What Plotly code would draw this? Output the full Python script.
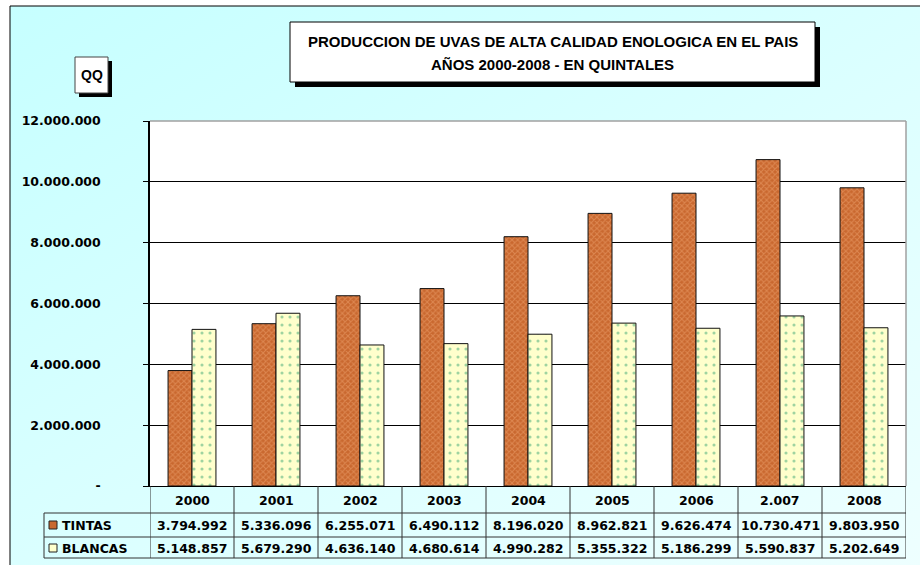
import base64
import plotly.graph_objects as go

# ---------------- data ----------------
years = ["2000", "2001", "2002", "2003", "2004", "2005", "2006", "2.007", "2008"]
tintas = [3794992, 5336096, 6255071, 6490112, 8196020, 8962821, 9626474, 10730471, 9803950]
blancas = [5148857, 5679290, 4636140, 4680614, 4990282, 5355322, 5186299, 5590837, 5202649]
series_names = ["TINTAS", "BLANCAS"]
y_ticks = [0, 2000000, 4000000, 6000000, 8000000, 10000000, 12000000]
title_lines = ["PRODUCCION DE UVAS DE ALTA CALIDAD ENOLOGICA EN EL PAIS",
               "AÑOS 2000-2008 - EN QUINTALES"]
unit_label = "QQ"


def fmt(v):
    return f"{v:,}".replace(",", ".")


# ---------------- layout geometry (pixels) ----------------
W, H = 920, 565
L, R, T, B = 150, 14, 121, 79
PW, PH = W - L - R, H - T - B


def px(x):
    return (x - L) / PW


def py(y):
    return (H - B - y) / PH


FONT = "Liberation Sans, Arial, Helvetica, sans-serif"
WIDE = "DejaVu Sans, Verdana, sans-serif"
TINTA_BG = "#c9682f"
TINTA_FG = "#f0a672"
BLANCA_BG = "#ffffcc"
BLANCA_FG = "#3fa873"

fig = go.Figure()
fig.add_trace(go.Bar(
    x=years, y=tintas, name=series_names[0],
    marker=dict(color=TINTA_BG, line=dict(color="#111", width=1),
                pattern=dict(shape="x", fgcolor=TINTA_FG, bgcolor=TINTA_BG,
                             size=4, solidity=0.45, fillmode="overlay")),
))
fig.add_trace(go.Bar(
    x=years, y=blancas, name=series_names[1],
    marker=dict(color=BLANCA_BG, line=dict(color="#111", width=1),
                pattern=dict(shape=".", fgcolor=BLANCA_FG, bgcolor=BLANCA_BG,
                             size=8, solidity=0.12, fillmode="overlay")),
))

# gradient background via SVG image
svg = ('<svg xmlns="http://www.w3.org/2000/svg" width="100" height="100" preserveAspectRatio="none">'
       '<defs><linearGradient id="g" x1="0" y1="0" x2="1" y2="1">'
       '<stop offset="0" stop-color="#c6ffff"/><stop offset="1" stop-color="#eeffff"/>'
       '</linearGradient></defs><rect width="100" height="100" fill="url(#g)"/></svg>')
src = "data:image/svg+xml;base64," + base64.b64encode(svg.encode()).decode()

x0b, y0b = px(10), py(6)
x1b, y1b = px(W + 2), py(H + 2)
images = [dict(source=src, xref="paper", yref="paper", x=x0b, y=y0b,
               sizex=x1b - x0b, sizey=y0b - y1b, sizing="stretch",
               xanchor="left", yanchor="top", layer="below")]

shapes = []
# outer border (top + left)
shapes.append(dict(type="line", xref="paper", yref="paper", x0=x0b, x1=x1b, y0=y0b, y1=y0b,
                   line=dict(color="#000", width=1), layer="below"))
shapes.append(dict(type="line", xref="paper", yref="paper", x0=x0b, x1=x0b, y0=y0b, y1=y1b,
                   line=dict(color="#000", width=1), layer="below"))
# plot area white background
shapes.append(dict(type="rect", xref="paper", yref="paper", x0=0, x1=1, y0=0, y1=1,
                   fillcolor="white", line=dict(width=0), layer="below"))
# plot area frame (grey top/right)
shapes.append(dict(type="line", xref="paper", yref="paper", x0=0, x1=1, y0=1, y1=1,
                   line=dict(color="#a0a0a0", width=1.5)))
shapes.append(dict(type="line", xref="paper", yref="paper", x0=1, x1=1, y0=0, y1=1,
                   line=dict(color="#a0a0a0", width=1.5)))

# title box with shadow
tx0, tx1, ty0, ty1 = 290, 815, 22, 82
shapes.append(dict(type="rect", xref="paper", yref="paper", x0=px(tx0 + 5), x1=px(tx1 + 5),
                   y0=py(ty0 + 5), y1=py(ty1 + 5), fillcolor="#000", line=dict(width=0)))
shapes.append(dict(type="rect", xref="paper", yref="paper", x0=px(tx0), x1=px(tx1),
                   y0=py(ty0), y1=py(ty1), fillcolor="white", line=dict(color="#000", width=1)))
# QQ box with shadow
qx0, qx1, qy0, qy1 = 75, 108, 57, 93
shapes.append(dict(type="rect", xref="paper", yref="paper", x0=px(qx0 + 4), x1=px(qx1 + 4),
                   y0=py(qy0 + 4), y1=py(qy1 + 4), fillcolor="#000", line=dict(width=0)))
shapes.append(dict(type="rect", xref="paper", yref="paper", x0=px(qx0), x1=px(qx1),
                   y0=py(qy0), y1=py(qy1), fillcolor="white", line=dict(color="#444", width=1)))

# data table lines
TL = "#333"
row_tops = [486, 513, 537, 558]
for i in range(len(years) + 1):
    shapes.append(dict(type="line", xref="x", yref="paper", x0=i - 0.5, x1=i - 0.5,
                       y0=py(486), y1=py(558), line=dict(color=TL, width=1)))
for yy in row_tops[1:]:
    shapes.append(dict(type="line", xref="paper", yref="paper", x0=px(44), x1=1,
                       y0=py(yy), y1=py(yy), line=dict(color=TL, width=1)))
shapes.append(dict(type="line", xref="paper", yref="paper", x0=px(44), x1=px(44),
                   y0=py(513), y1=py(558), line=dict(color=TL, width=1)))
# legend keys in table
for yc, col in [(525, TINTA_BG), (548, BLANCA_BG)]:
    shapes.append(dict(type="rect", xref="paper", yref="paper", x0=px(49), x1=px(57),
                       y0=py(yc - 4), y1=py(yc + 4), fillcolor=col,
                       line=dict(color="#222", width=1)))

annotations = []
tfont = dict(family=FONT, size=15, color="#000", weight="bold")
annotations.append(dict(text=title_lines[0], xref="paper", yref="paper",
                        x=px((tx0 + tx1) / 2), y=py(41), showarrow=False, font=tfont,
                        xanchor="center", yanchor="middle"))
annotations.append(dict(text=title_lines[1], xref="paper", yref="paper",
                        x=px((tx0 + tx1) / 2), y=py(64), showarrow=False, font=tfont,
                        xanchor="center", yanchor="middle"))
annotations.append(dict(text=unit_label, xref="paper", yref="paper",
                        x=px((qx0 + qx1) / 2), y=py((qy0 + qy1) / 2), showarrow=False,
                        font=dict(family=FONT, size=14, color="#000", weight="bold"),
                        xanchor="center", yanchor="middle"))

cellfont = dict(family=WIDE, size=12.5, color="#000", weight="bold")
for i, yr in enumerate(years):
    annotations.append(dict(text=yr, xref="x", yref="paper", x=i, y=py(500),
                            showarrow=False, font=cellfont, xanchor="center", yanchor="middle"))
    annotations.append(dict(text=fmt(tintas[i]), xref="x", yref="paper", x=i, y=py(525),
                            showarrow=False, font=cellfont, xanchor="center", yanchor="middle"))
    annotations.append(dict(text=fmt(blancas[i]), xref="x", yref="paper", x=i, y=py(548),
                            showarrow=False, font=cellfont, xanchor="center", yanchor="middle"))
for name, yc in [(series_names[0], 525), (series_names[1], 548)]:
    annotations.append(dict(text=name, xref="paper", yref="paper", x=px(60), y=py(yc),
                            showarrow=False, font=cellfont, xanchor="left", yanchor="middle"))

fig.update_layout(
    width=W, height=H,
    margin=dict(l=L, r=R, t=T, b=B, pad=0),
    paper_bgcolor="white", plot_bgcolor="rgba(0,0,0,0)",
    showlegend=False,
    barmode="group", bargap=0.43, bargroupgap=0,
    images=images, shapes=shapes, annotations=annotations,
    font=dict(family=FONT),
    xaxis=dict(type="category", range=[-0.5, len(years) - 0.5], showticklabels=False,
               ticks="", showgrid=False, showline=True, linecolor="#000", linewidth=1,
               zeroline=False, fixedrange=True),
    yaxis=dict(range=[0, 12000000], tickvals=y_ticks,
               ticktext=["-" if v == 0 else fmt(v) for v in y_ticks],
               tickfont=dict(family=WIDE, size=12.5, color="#000", weight="bold"),
               ticks="outside", ticklen=5, tickcolor="#000", ticklabelstandoff=40,
               showgrid=True, gridcolor="#000", gridwidth=1,
               showline=True, linecolor="#000", linewidth=1.5, zeroline=False,
               fixedrange=True),
)

fig.write_html("out.html", config={"displayModeBar": False},
               post_script="document.body.style.margin='0';")
